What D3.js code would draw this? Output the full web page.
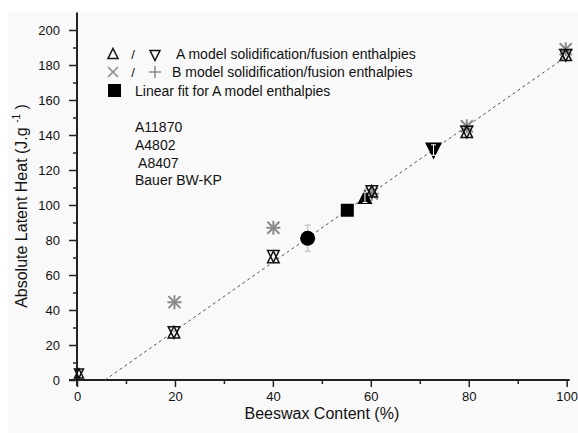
<!DOCTYPE html>
<html>
<head>
<meta charset="utf-8">
<script src="https://cdn.jsdelivr.net/npm/d3@7"></script>
<style>
  body { margin: 0; background: #fff; }
  text { font-family: "Liberation Sans", Arial, sans-serif; fill: #111; }
</style>
</head>
<body>
<div id="chart"></div>
<script>
// data
const contentA = [0.4, 19.8, 40.1, 60.2, 79.6, 99.8];
const solidA = [3.5, 27, 70, 107.5, 141.5, 185.5];   // up triangles
const fusionA = [4, 27.5, 71, 108, 142, 185.8];      // down triangles
const contentB = [19.9, 40.1, 60.2, 79.6, 99.8];
const valuesB = [44.5, 87, 106.5, 145, 189];
const waxNames = ['A11870', 'A4802', ' A8407', 'Bauer BW-KP'];
const waxContent = [47.1, 55.2, 58.8, 72.8];
const waxHeat = [81, 97, 104.4, 131.4];
const waxError = [7.5, 0, 3, 3];
const fitLine = [[5.7, 0], [100, 185]];
const xTicks = [0, 20, 40, 60, 80, 100];
const yTicks = [0, 20, 40, 60, 80, 100, 120, 140, 160, 180, 200];

const width = 578, height = 433;
const margin = { top: 12.5, left: 77, right: 11.3, bottom: 53 };

const svg = d3.select('#chart').append('svg').attr('width', width).attr('height', height);

// background panel
svg.append('rect').attr('x', 8).attr('y', 11).attr('width', width - 8).attr('height', height - 11).attr('fill', '#f9f9f9');

const x = d3.scaleLinear().domain([0, 100]).range([margin.left, width - margin.right]);
const y = d3.scaleLinear().domain([0, 210]).range([height - margin.bottom, margin.top]);

// axes
const xAxis = d3.axisBottom(x).tickValues(xTicks).tickSize(7).tickPadding(5).tickFormat(d3.format('d'));
const xMinor = d3.axisBottom(x).tickValues(d3.range(10, 100, 20)).tickSize(4).tickFormat('');
const yAxis = d3.axisLeft(y).tickValues(yTicks).tickSize(8).tickPadding(9).tickFormat(d3.format('d'));
const yMinor = d3.axisLeft(y).tickValues(d3.range(10, 210, 20)).tickSize(4).tickFormat('');

svg.append('g').attr('transform', `translate(0,${y(0)})`).call(xAxis);
svg.append('g').attr('transform', `translate(0,${y(0)})`).call(xMinor);
svg.append('g').attr('transform', `translate(${x(0)},0)`).call(yAxis);
svg.append('g').attr('transform', `translate(${x(0)},0)`).call(yMinor);

svg.selectAll('.domain').remove();
svg.selectAll('.tick line').attr('stroke', '#222').attr('stroke-width', 1.5);
svg.selectAll('.tick text').attr('font-size', 13).attr('fill', '#111')
  .style('font-family', '"Liberation Sans", Arial, sans-serif');

svg.append('line').attr('x1', x(0) - 8).attr('x2', x(100) + 3).attr('y1', y(0)).attr('y2', y(0))
  .attr('stroke', '#222').attr('stroke-width', 2);
svg.append('line').attr('x1', x(0)).attr('x2', x(0)).attr('y1', y(0) + 6).attr('y2', y(210))
  .attr('stroke', '#222').attr('stroke-width', 2);

// axis titles
svg.append('text').attr('x', (x(0) + x(100)) / 2).attr('y', 419).attr('text-anchor', 'middle')
  .attr('font-size', 16).text('Beeswax Content (%)');

const yTitle = svg.append('text').attr('transform', 'translate(27,206) rotate(-90)')
  .attr('text-anchor', 'middle').attr('font-size', 16);
yTitle.append('tspan').text('Absolute Latent Heat (J.g ');
yTitle.append('tspan').attr('font-size', 10).attr('dy', -7).text('-1');
yTitle.append('tspan').attr('dy', 7).text(' )');

// fit line
svg.append('path')
  .attr('d', d3.line().x(d => x(d[0])).y(d => y(d[1]))(fitLine))
  .attr('fill', 'none').attr('stroke', '#555').attr('stroke-width', 1)
  .attr('stroke-dasharray', '3,3');

const tri = (cx, cy, s, up) => up
  ? `M${cx},${cy - s * 0.55}L${cx + s / 2},${cy + s * 0.45}L${cx - s / 2},${cy + s * 0.45}Z`
  : `M${cx},${cy + s * 0.55}L${cx + s / 2},${cy - s * 0.45}L${cx - s / 2},${cy - s * 0.45}Z`;

// B model: x and + (grey asterisk)
const gB = svg.append('g').attr('stroke', '#8a8a8a').attr('stroke-width', 2);
contentB.forEach((c, i) => {
  const cx = x(c), cy = y(valuesB[i]), r = 6;
  gB.append('path').attr('d', `M${cx - r},${cy - r}L${cx + r},${cy + r}M${cx - r},${cy + r}L${cx + r},${cy - r}`);
  gB.append('path').attr('d', `M${cx},${cy - r - 1}L${cx},${cy + r + 1}M${cx - r - 1},${cy}L${cx + r + 1},${cy}`);
});

// A model: up / down open triangles
const gA = svg.append('g');
contentA.forEach((c, i) => {
  const s = i === 0 ? 9 : 11.5;
  gA.append('path').attr('d', tri(x(c), y(solidA[i]), s, true))
    .attr('fill', 'none').attr('stroke', '#111').attr('stroke-width', 1.5);
  gA.append('path').attr('d', tri(x(c), y(fusionA[i]), s, false))
    .attr('fill', 'none').attr('stroke', '#111').attr('stroke-width', 1.5);
});

// commercial waxes
const gW = svg.append('g');
waxContent.forEach((c, i) => {
  const cx = x(c), cy = y(waxHeat[i]);
  const errColor = i === 0 ? '#c8c8c8' : '#fff';
  if (i === 0) {
    gW.append('line').attr('x1', cx).attr('x2', cx).attr('y1', y(waxHeat[i] - waxError[i])).attr('y2', y(waxHeat[i] + waxError[i]))
      .attr('stroke', errColor).attr('stroke-width', 1.5);
    [-1, 1].forEach(k => gW.append('line').attr('x1', cx - 3).attr('x2', cx + 3)
      .attr('y1', y(waxHeat[i] + k * waxError[i])).attr('y2', y(waxHeat[i] + k * waxError[i]))
      .attr('stroke', errColor).attr('stroke-width', 1.5));
    gW.append('circle').attr('cx', cx).attr('cy', cy).attr('r', 7.5).attr('fill', '#000');
  } else if (i === 1) {
    gW.append('rect').attr('x', cx - 6.5).attr('y', cy - 6.5).attr('width', 13).attr('height', 13).attr('fill', '#000');
  } else {
    gW.append('path').attr('d', tri(cx, cy, i === 2 ? 15 : 17, i === 2)).attr('fill', '#000');
  }
  if (i > 0 && waxError[i] > 0) {
    const ys = [y(waxHeat[i] - waxError[i]), y(waxHeat[i] + waxError[i])];
    gW.append('line').attr('x1', cx).attr('x2', cx).attr('y1', ys[0]).attr('y2', ys[1])
      .attr('stroke', errColor).attr('stroke-width', 1);
    ys.forEach(v => gW.append('line').attr('x1', cx - 2.5).attr('x2', cx + 2.5).attr('y1', v).attr('y2', v)
      .attr('stroke', errColor).attr('stroke-width', 1));
  }
});

// legend
const legend = svg.append('g');
legend.append('path').attr('d', tri(113, 54, 10, true)).attr('fill', 'none').attr('stroke', '#111').attr('stroke-width', 1.5);
legend.append('text').attr('x', 133).attr('y', 59).attr('font-size', 13).attr('text-anchor', 'middle').text('/');
legend.append('path').attr('d', tri(155, 55, 10, false)).attr('fill', 'none').attr('stroke', '#111').attr('stroke-width', 1.5);
legend.append('text').attr('x', 176).attr('y', 59).attr('font-size', 14).text('A model solidification/fusion enthalpies');

legend.append('path').attr('d', 'M108,67L118,77M108,77L118,67').attr('stroke', '#8a8a8a').attr('stroke-width', 1.5);
legend.append('text').attr('x', 133).attr('y', 77).attr('font-size', 13).attr('text-anchor', 'middle').text('/');
legend.append('path').attr('d', 'M155,66L155,78M149,72L161,72').attr('stroke', '#8a8a8a').attr('stroke-width', 1.5);
legend.append('text').attr('x', 172).attr('y', 77).attr('font-size', 14).text('B model solidification/fusion enthalpies');

legend.append('rect').attr('x', 108).attr('y', 84).attr('width', 13).attr('height', 13).attr('fill', '#000');
legend.append('text').attr('x', 135).attr('y', 96).attr('font-size', 14).text('Linear fit for A model enthalpies');

legend.selectAll('text.wax').data(waxNames).join('text').classed('wax', true)
  .attr('x', 135).attr('y', (d, i) => 132 + i * 17.8).attr('font-size', 14)
  .attr('xml:space', 'preserve').style('white-space', 'pre').text(d => d);
</script>
</body>
</html>
